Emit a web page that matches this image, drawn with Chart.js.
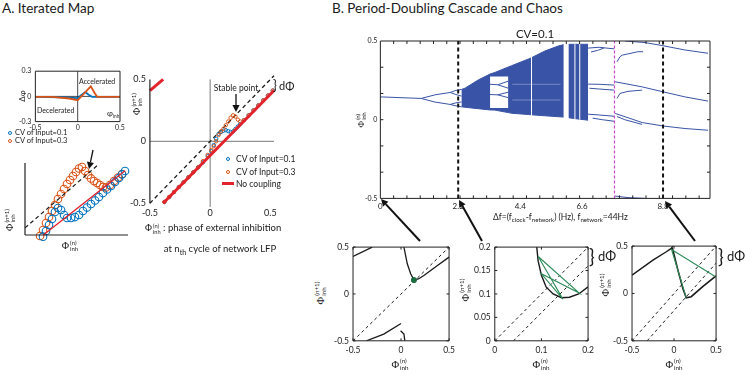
<!DOCTYPE html>
<html><head><meta charset="utf-8">
<script src="https://cdn.jsdelivr.net/npm/chart.js@4/dist/chart.umd.min.js"></script>
<style>
html,body{margin:0;padding:0;background:#fff;}
body{width:745px;height:375px;position:relative;overflow:hidden;font-family:Lato,"Open Sans",sans-serif;color:#1a1a1a;}
.wrap{position:absolute;z-index:1;}
.t{position:absolute;white-space:nowrap;line-height:1;z-index:5;}
.ph{font-family:"Liberation Serif","DejaVu Serif",serif;}
.st{display:inline-flex;flex-direction:column;font-size:0.6em;line-height:1.05;vertical-align:middle;margin-left:1px;}
.mk{position:absolute;border-radius:50%;box-sizing:border-box;z-index:5;}
svg{position:absolute;left:0;top:0;z-index:6;}
</style></head><body>
<svg id="ov" width="745" height="375"></svg>
<script>
// ---------------- DATA ----------------
// A inset: Δφ vs φ_inh
const insetBlueX = [-0.5, -0.2, 0, 0.04, 0.09, 0.13, 0.17, 0.5];
const insetBlueY = [-0.005, -0.01, -0.02, 0.015, 0.05, 0.02, -0.005, -0.005];
const insetOrangeX = [-0.5, -0.3, -0.1, 0, 0.08, 0.155, 0.2, 0.23, 0.5];
const insetOrangeY = [-0.005, -0.005, -0.025, -0.045, 0.04, 0.12, 0.04, -0.005, -0.005];
const insetXTicks = [-0.5, 0, 0.5];
const insetYTicks = [-0.3, 0, 0.3];

// A left: zoomed iterated map (large circles)
const leftBlueX = [-0.325,-0.296,-0.267,-0.238,-0.209,-0.18,-0.15,-0.121,-0.092,-0.053,-0.015,0.024,0.063,0.102,0.141,0.18,0.218,0.257,0.296,0.335,0.374,0.413,0.442,0.471];
const leftBlueY = [-0.599,-0.535,-0.468,-0.4,-0.321,-0.276,-0.299,-0.355,-0.389,-0.389,-0.378,-0.355,-0.31,-0.271,-0.231,-0.192,-0.153,-0.108,-0.068,-0.029,0.016,0.061,0.101,0.14];
const leftOrangeX = [-0.354,-0.325,-0.296,-0.267,-0.238,-0.209,-0.18,-0.15,-0.121,-0.092,-0.063,-0.034,-0.005,0.024,0.053,0.083,0.112,0.141,0.17,0.199,0.228,0.257,0.286,0.325,0.364,0.403,0.442];
const leftOrangeY = [-0.591,-0.524,-0.445,-0.378,-0.31,-0.243,-0.175,-0.119,-0.063,-0.006,0.039,0.084,0.129,0.168,0.185,0.14,0.095,0.056,0.027,0.005,-0.018,-0.04,-0.046,-0.018,0.027,0.067,0.106];
const leftRed = [[-0.322,-0.58],[0.471,0.143]];
const leftDiag = [[-0.5,-0.5],[0.21,0.21]];

// A main: iterated map
const mainX = [-0.38,-0.34,-0.3,-0.26,-0.22,-0.18,-0.14,-0.1,-0.06,-0.02,0.01,0.03,0.05,0.07,0.09,0.11,0.13,0.15,0.17,0.19,0.21,0.23,0.25,0.28,0.32,0.36,0.4,0.44,0.48,0.52];
const mainBlueY = [-0.49,-0.45,-0.41,-0.37,-0.33,-0.29,-0.25,-0.21,-0.17,-0.12,-0.08,-0.03,0.02,0.06,0.075,0.085,0.09,0.082,0.076,0.08,0.1,0.12,0.14,0.17,0.21,0.25,0.29,0.33,0.37,0.41];
const mainOrangeY = [-0.49,-0.45,-0.41,-0.37,-0.33,-0.29,-0.25,-0.21,-0.16,-0.11,-0.07,-0.04,0.0,0.05,0.08,0.1,0.13,0.16,0.19,0.21,0.2,0.175,0.16,0.17,0.21,0.25,0.29,0.33,0.37,0.41];
const mainRed = [[-0.39,-0.5],[0.53,0.41]];
const mainRedWrap = [[-0.5,0.41],[-0.39,0.5]];
const mainDiag = [[-0.5,-0.5],[0.53,0.53]];
const mainXTicks = [-0.5, 0, 0.5];
const mainYTicks = [-0.5, 0, 0.5];

// B main: bifurcation diagram (CV=0.1)
const bifXTickPos = [0, 2.42, 4.35, 6.27, 8.79];
const bifXTickLabels = ['0', '2.2', '4.4', '6.6', '8.8'];
const bifYTicks = [-0.5, 0, 0.5];
const bifP1 = [[0,0.145],[1.27,0.135]];
const bifP2a = [[1.27,0.135],[1.7,0.158],[2.17,0.173]];
const bifP2b = [[1.27,0.135],[1.7,0.112],[2.17,0.097]];
const bifP4a = [[2.17,0.173],[2.35,0.186],[2.52,0.192]];
const bifP4b = [[2.17,0.173],[2.35,0.16],[2.52,0.15]];
const bifP4c = [[2.17,0.097],[2.35,0.107],[2.52,0.113]];
const bifP4d = [[2.17,0.097],[2.35,0.088],[2.52,0.082]];
const bandX = [2.52, 2.63, 3.04, 3.41, 3.56, 3.98, 4.08, 4.6, 4.7, 5.11, 5.53, 5.68, 5.87, 6.0, 6.46];
const bandTop = [0.192, 0.2, 0.252, 0.29, 0.3, 0.335, 0.343, 0.385, 0.394, 0.436, 0.468, 0.476, 0.479, 0.479, 0.479];
const bandBottom = [0.082, 0.079, 0.07, 0.062, 0.061, 0.045, 0.041, 0.033, 0.031, 0.025, 0.019, 0.017, 0.012, 0.008, -0.003];
const bifWindows = [[3.41, 3.98, 0.075, 0.275], [5.69, 5.86, -0.01, 0.49]];
const bifWhiteV = [4.7, 6.05, 6.2];
const bifWhiteH = [0.225, 0.125];
const bifWin1 = [[[3.41,0.225],[3.65,0.222],[3.98,0.245]], [[3.65,0.222],[3.98,0.2]], [[3.41,0.16],[3.65,0.158],[3.98,0.175]], [[3.65,0.158],[3.98,0.14]]];
const bifPost = [
  [[6.46,0.455],[6.8,0.46],[7.27,0.45]],
  [[6.55,0.43],[6.75,0.44],[6.95,0.455]],
  [[6.46,0.226],[6.8,0.225],[7.27,0.22]],
  [[6.5,0.2],[6.8,0.195],[7.27,0.188]],
  [[6.46,0.035],[6.8,0.03],[7.27,0.022]],
  [[6.6,0.01],[6.9,0.0],[7.27,-0.01]],
  [[7.36,0.368],[7.45,0.4],[7.52,0.41],[8.01,0.432],[8.17,0.432]],
  [[7.61,0.5],[8.23,0.49],[8.79,0.47],[9.47,0.443],[10.19,0.422]],
  [[7.3,0.241],[8.13,0.209],[8.79,0.177],[9.47,0.145],[10.19,0.118]],
  [[7.36,0.135],[7.45,0.167],[7.7,0.18],[8.14,0.188]],
  [[7.3,0.04],[8.14,-0.018],[8.79,-0.04],[9.47,-0.056],[10.19,-0.067]],
  [[7.36,0.02],[7.6,0.0],[8.14,-0.03]],
  [[7.3,-0.485],[7.7,-0.495],[8.23,-0.5]]
];
const bifDashedX = [2.42, 8.79];
const bifMagentaX = 7.28;

// B small maps
const b1Curves = [
  [[-0.5,0.4],[-0.3,0.5]],
  [[0.03,0.5],[0.065,0.322],[0.1,0.215],[0.134,0.15],[0.18,0.16],[0.238,0.197],[0.379,0.304],[0.5,0.393]],
  [[-0.36,-0.5],[-0.18,-0.428],[0.0,-0.315]],
  [[-0.005,-0.393],[0.03,-0.428],[0.04,-0.5]]
];
const b1Fixed = [[0.134,0.148]];
const b1Diag = [[-0.5,-0.5],[0.5,0.5]];
const b2Curve = [[0.09,0.2],[0.093,0.17],[0.1,0.14],[0.11,0.115],[0.125,0.1],[0.143,0.092],[0.16,0.093],[0.18,0.1],[0.2,0.115]];
const b2Diag1 = [[0,0],[0.2,0.2]];
const b2Diag2 = [[0.04,0],[0.2,0.16]];
const b2Web = [[0.093,0.18],[0.181,0.102],[0.1,0.143],[0.146,0.089],[0.093,0.18]];
const b3CurveA = [[-0.5,0.194],[-0.251,0.352],[-0.092,0.44],[-0.033,0.476],[-0.014,0.5]];
const b3CurveB = [[-0.02,0.48],[0.046,0.246],[0.105,0.053],[0.145,-0.045],[0.204,-0.034],[0.341,0.072],[0.5,0.185]];
const b3Web = [[0.494,0.176],[-0.03,0.465],[0.145,-0.045]];
const b3Diag1 = [[-0.5,-0.5],[0.5,0.5]];
const b3Diag2 = [[-0.32,-0.5],[0.5,0.32]];
const bPhaseTicks = [-0.5, 0, 0.5];
const b2XTicks = [0, 0.1, 0.2];
const b2YTicks = [0, 0.05, 0.1, 0.15, 0.2];

// ---------------- STYLE ----------------
const C = {blue:'#0072BD', orange:'#D95319', red:'#E3232C', bif:'#3953A6', green:'#2E8B57', dot:'#1d6b40', ink:'#1a1a1a', mag:'#C646C6', gray:'#777'};
Chart.defaults.font.family = 'Lato, "Open Sans", sans-serif';
Chart.defaults.color = '#222';
Chart.defaults.animation = false;

const framePlugin = {id:'frame', afterDraw(chart, args, o){
  if(!o || !o.sides) return;
  const a = chart.chartArea, c = chart.ctx;
  c.save(); c.strokeStyle = o.color || '#222'; c.lineWidth = o.width || 1;
  c.beginPath();
  if(o.sides.includes('t')){c.moveTo(a.left,a.top);c.lineTo(a.right,a.top);}
  if(o.sides.includes('b')){c.moveTo(a.left,a.bottom);c.lineTo(a.right,a.bottom);}
  if(o.sides.includes('l')){c.moveTo(a.left,a.top);c.lineTo(a.left,a.bottom);}
  if(o.sides.includes('r')){c.moveTo(a.right,a.top);c.lineTo(a.right,a.bottom);}
  const n = o.len || 3;
  (o.xTicks||[]).forEach(v=>{const p=chart.scales.x.getPixelForValue(v); c.moveTo(p,a.bottom); c.lineTo(p,a.bottom-n); c.moveTo(p,a.top); c.lineTo(p,a.top+n);});
  (o.yTicks||[]).forEach(v=>{const p=chart.scales.y.getPixelForValue(v); c.moveTo(a.left,p); c.lineTo(a.left+n,p); c.moveTo(a.right,p); c.lineTo(a.right-n,p);});
  c.stroke(); c.restore();
}};
Chart.register(framePlugin);

const pts = (xs, ys) => xs.map((x,i)=>({x, y: ys[i]}));
const pairs = arr => arr.map(p=>({x:p[0], y:p[1]}));
const L = (data, color, width, extra={}) => Object.assign({data, borderColor:color, borderWidth:width, pointRadius:0, fill:false, tension:0, backgroundColor:color}, extra);
const S = (data, color, r, bw, extra={}) => Object.assign({data, showLine:false, borderColor:color, pointBorderColor:color, pointBackgroundColor:'rgba(0,0,0,0)', pointRadius:r, pointBorderWidth:bw, clip:false}, extra);

function axis(min, max, ticks, size, labels, pad){
  return {type:'linear', min, max, grid:{display:false, drawTicks:false, tickLength:0}, border:{display:false},
    afterBuildTicks: s => { s.ticks = ticks.map(v=>({value:v})); },
    ticks:{font:{size}, color:'#222', padding:(pad===undefined?4:pad), autoSkip:false, maxRotation:0, minRotation:0,
      callback:(v,i)=> labels ? labels[i] : String(v)}};
}
function hidden(min,max){ return {type:'linear', min, max, display:false}; }
function config(datasets, scales, frame, pad){
  return {type:'line', data:{datasets},
    options:{responsive:false, maintainAspectRatio:false, animation:false, events:[],
      layout:{padding: pad || {top:8,right:8,left:2,bottom:2}},
      elements:{point:{radius:0}, line:{tension:0}},
      scales, plugins:{legend:{display:false}, tooltip:{enabled:false}, frame}}};
}
function build(box, cfgFn){
  const wrap = document.createElement('div'); wrap.className='wrap'; document.body.appendChild(wrap);
  let W = Math.round(box.w + 80), H = Math.round(box.h + 60), chart;
  for(let pass=0; pass<2; pass++){
    if(chart) chart.destroy();
    wrap.innerHTML = '';
    const cv = document.createElement('canvas');
    cv.width = W; cv.height = H; cv.style.width = W+'px'; cv.style.height = H+'px';
    wrap.appendChild(cv);
    chart = new Chart(cv, cfgFn());
    const a = chart.chartArea;
    W = Math.round(W + box.w - (a.right - a.left));
    H = Math.round(H + box.h - (a.bottom - a.top));
  }
  const a = chart.chartArea;
  wrap.style.left = Math.round(box.l - a.left) + 'px';
  wrap.style.top = Math.round(box.t - a.top) + 'px';
  return chart;
}

// ---------------- CHARTS ----------------
// A inset
build({l:35,t:71,w:85,h:50}, ()=>config([
  L(pts(insetOrangeX, insetOrangeY), C.orange, 1.8),
  L(pts(insetBlueX, insetBlueY), C.blue, 1.8),
  L([{x:-0.5,y:0},{x:0.5,y:0}], C.ink, 0.8),
  L([{x:0,y:-0.3},{x:0,y:0.3}], C.ink, 0.8)
], {x:axis(-0.5,0.5,insetXTicks,7,null,2), y:axis(-0.3,0.3,insetYTicks,7,null,4)}, {sides:'lrtb'}));

// A left
build({l:25,t:163,w:103,h:72}, ()=>config([
  L(pairs(leftRed), C.red, 1.4, {clip:false}),
  L(pairs(leftDiag), C.ink, 1.2, {borderDash:[4,3], clip:false}),
  S(pts(leftBlueX, leftBlueY), C.blue, 3.8, 1.1),
  S(pts(leftOrangeX, leftOrangeY), C.orange, 3.8, 1.1)
], {x:hidden(-0.5,0.5), y:hidden(-0.58,0.23)}, {sides:'lb', width:1.2}, {top:10,right:10,left:10,bottom:10}));

// A main
build({l:150,t:79,w:123.6,h:124}, ()=>config([
  L(pairs(mainRedWrap), C.red, 3, {clip:false}),
  L(pairs(mainRed), C.red, 3, {clip:false}),
  S(pts(mainX, mainOrangeY), C.orange, 1.7, 1),
  S(pts(mainX, mainBlueY), C.blue, 1.7, 1),
  L(pairs(mainDiag), C.ink, 1.3, {borderDash:[4,3], clip:false}),
  L([{x:-0.5,y:0},{x:0.53,y:0}], C.gray, 1, {clip:false}),
  L([{x:0,y:-0.53},{x:0,y:0.5}], C.gray, 1, {clip:false})
], {x:axis(-0.5,0.53,mainXTicks,9,null,4), y:axis(-0.5,0.5,mainYTicks,9,null,4)}, {sides:'l', width:1.2}));

// B bifurcation
const bifMinorX = []; for(let k=1;k<=24;k++) bifMinorX.push(k*0.413);
const bifMinorY = []; for(let k=1;k<=5;k++) bifMinorY.push(-0.5 + k/6);
build({l:380,t:41,w:330,h:157}, ()=>{
  const ds = [];
  ds.push(L(pts(bandX, bandTop), C.bif, 1, {order:3}));
  ds.push(L(pts(bandX, bandBottom), C.bif, 1, {order:3, fill:'-1', backgroundColor:C.bif}));
  bifWindows.forEach(w=>{
    ds.push(L([{x:w[0],y:w[3]},{x:w[1],y:w[3]}], 'rgba(0,0,0,0)', 0, {order:2}));
    ds.push(L([{x:w[0],y:w[2]},{x:w[1],y:w[2]}], 'rgba(0,0,0,0)', 0, {order:2, fill:'-1', backgroundColor:'#fff'}));
  });
  bifWhiteV.forEach(x=> ds.push(L([{x,y:0.0},{x,y:0.48}], '#fff', 1, {order:2})));
  bifWhiteH.forEach(y=> ds.push(L([{x:4.1,y},{x:5.6,y}], 'rgba(255,255,255,0.55)', 0.6, {order:2})));
  [bifP1,bifP2a,bifP2b,bifP4a,bifP4b,bifP4c,bifP4d].forEach(b=>ds.push(L(pairs(b), C.bif, 1, {order:1})));
  bifWin1.forEach(b=>ds.push(L(pairs(b), C.bif, 1, {order:1})));
  bifPost.forEach(b=>ds.push(L(pairs(b), C.bif, 1, {order:1})));
  bifDashedX.forEach(x=>ds.push(L([{x,y:-0.5},{x,y:0.5}], '#111', 2, {order:0, borderDash:[4,3]})));
  ds.push(L([{x:bifMagentaX,y:-0.5},{x:bifMagentaX,y:0.5}], C.mag, 1.2, {order:0, borderDash:[3,2]}));
  return config(ds, {x:axis(0,10.25,bifXTickPos,8,bifXTickLabels,3), y:axis(-0.5,0.5,bifYTicks,7,null,3)},
    {sides:'lrtb', xTicks:bifMinorX, yTicks:bifMinorY, len:3});
});

// B1
build({l:353,t:247,w:95.6,h:93.3}, ()=>config([
  S(pairs(b1Fixed), C.dot, 2.6, 1, {pointBackgroundColor:C.dot}),
  ...b1Curves.map(c=>L(pairs(c), C.ink, 1.3)),
  L(pairs(b1Diag), C.ink, 1, {borderDash:[3,3]})
], {x:axis(-0.5,0.5,bPhaseTicks,8.5), y:axis(-0.5,0.5,bPhaseTicks,8.5)}, {sides:'lrtb', xTicks:bPhaseTicks, yTicks:bPhaseTicks, len:2.5}));

// B2
build({l:495,t:247,w:93.3,h:93.3}, ()=>config([
  L(pairs(b2Web), C.green, 1.1),
  L(pairs(b2Curve), C.ink, 1.4),
  L(pairs(b2Diag1), C.ink, 1, {borderDash:[3,3]}),
  L(pairs(b2Diag2), C.ink, 1, {borderDash:[3,3]})
], {x:axis(0,0.2,b2XTicks,8.5), y:axis(0,0.2,b2YTicks,8.5)}, {sides:'lrtb', xTicks:b2XTicks, yTicks:b2YTicks, len:2.5}));

// B3
build({l:632,t:246,w:84.5,h:94.7}, ()=>config([
  L(pairs(b3Web), C.green, 1.1),
  L(pairs(b3CurveA), C.ink, 1.4),
  L(pairs(b3CurveB), C.ink, 1.6),
  L(pairs(b3Diag1), C.ink, 1, {borderDash:[3,3]}),
  L(pairs(b3Diag2), C.ink, 1, {borderDash:[3,3]})
], {x:axis(-0.5,0.5,bPhaseTicks,8.5), y:axis(-0.5,0.5,bPhaseTicks,8.5)}, {sides:'lrtb', xTicks:bPhaseTicks, yTicks:bPhaseTicks, len:2.5}));

// ---------------- TEXT ----------------
function T(html, x, y, size, anchor, rot){
  const d = document.createElement('div'); d.className='t'; d.innerHTML = html;
  d.style.fontSize = size+'px'; d.style.left = x+'px'; d.style.top = y+'px';
  let tr = anchor==='c' ? 'translate(-50%,-50%)' : anchor==='r' ? 'translate(-100%,-50%)' : 'translate(0,-50%)';
  if(rot) tr = 'translate(-50%,-50%) rotate(-90deg)';
  d.style.transform = tr; document.body.appendChild(d); return d;
}
const PHI = sup => `<span class="ph">Φ</span><span class="st"><span>${sup}</span><span>inh</span></span>`;
const SB = s => `<sub style="font-size:0.72em">${s}</sub>`;
T('A. Iterated Map', 2, 9, 13.5, 'l');
T('B. Period-Doubling Cascade and Chaos', 332, 9, 13.5, 'l');
T('CV=0.1', 535, 33.5, 11.5, 'c');
T('Accelerated', 79, 80.5, 7, 'l');
T('Decelerated', 37, 109.5, 7, 'l');
T('φ<sub style="font-size:0.6em">inh</sub>', 107, 114, 8, 'l');
T('Δφ', 22, 96, 8, 'c', true);
T('CV of Input=0.1', 15, 133, 7.5, 'l');
T('CV of Input=0.3', 15, 141, 7.5, 'l');
T(PHI('(n+1)'), 10, 220, 10, 'c', true);
T(PHI('(n)'), 70, 246, 10, 'c');
T(PHI('(n+1)'), 137, 104, 10, 'c', true);
T(PHI('(n)') + ' : phase of external inhibition', 145, 229, 9.5, 'l');
T('at n<sub style="font-size:0.75em">th</sub> cycle of network LFP', 220, 250, 9.5, 'c');
T('Stable point', 236, 88, 8.5, 'c');
T('CV of Input=0.1', 236, 159, 8.5, 'l');
T('CV of Input=0.3', 236, 171.5, 8.5, 'l');
T('No coupling', 236, 183.5, 8.5, 'l');
T('}', 273, 85, 13, 'l');
T('dΦ', 279, 85, 11, 'l');
T(PHI('(n)'), 362, 120, 9, 'c', true);
T('Δf=(f' + SB('clock') + '-f' + SB('network') + ') (Hz), f' + SB('network') + '=44Hz', 493, 218, 8.5, 'l');
T(PHI('(n)'), 400, 365, 10.5, 'c');
T(PHI('(n)'), 541, 365, 10.5, 'c');
T(PHI('(n)'), 674, 365, 10.5, 'c');
T(PHI('(n+1)'), 321, 293, 10.5, 'c', true);
T(PHI('(n+1)'), 466, 290, 10.5, 'c', true);
T(PHI('(n+1)'), 606, 285, 10.5, 'c', true);
T('}', 589, 255, 19, 'l');
T('dΦ', 598, 256, 13, 'l');
T('}', 718, 255, 19, 'l');
T('dΦ', 727, 256, 13, 'l');

// legend markers
function M(x, y, d, color, fill){ const e=document.createElement('div'); e.className='mk';
  e.style.left=(x-d/2)+'px'; e.style.top=(y-d/2)+'px'; e.style.width=d+'px'; e.style.height=d+'px';
  e.style.border='1.2px solid '+color; if(fill) e.style.background=color; document.body.appendChild(e); }
M(10,133,4.5,C.blue,false); M(10,141,4.5,C.orange,false);
M(228,159,4,C.blue,false); M(228,171.5,4,C.orange,false);
const rl = document.createElement('div'); rl.style.cssText='position:absolute;left:222px;top:182.3px;width:12px;height:2.4px;background:'+C.red+';z-index:5';
document.body.appendChild(rl);

// arrows (annotations)
const ov = document.getElementById('ov');
function arrow(x1,y1,x2,y2,w){
  const ns='http://www.w3.org/2000/svg';
  const dx=x2-x1, dy=y2-y1, len=Math.hypot(dx,dy), ux=dx/len, uy=dy/len, hl=7, hw=3.6;
  const bx=x2-ux*hl, by=y2-uy*hl;
  const ln=document.createElementNS(ns,'line');
  ln.setAttribute('x1',x1); ln.setAttribute('y1',y1); ln.setAttribute('x2',bx); ln.setAttribute('y2',by);
  ln.setAttribute('stroke','#111'); ln.setAttribute('stroke-width',w); ov.appendChild(ln);
  const pg=document.createElementNS(ns,'polygon');
  pg.setAttribute('points',`${x2},${y2} ${bx-uy*hw},${by+ux*hw} ${bx+uy*hw},${by-ux*hw}`);
  pg.setAttribute('fill','#111'); ov.appendChild(pg);
}
arrow(420,241,381,199,2);
arrow(482,241,459,200,2);
arrow(695,241,665,201,2);
arrow(93,150,89,169,1.3);
arrow(236,94,236,112,1.3);
</script>
</body></html>
